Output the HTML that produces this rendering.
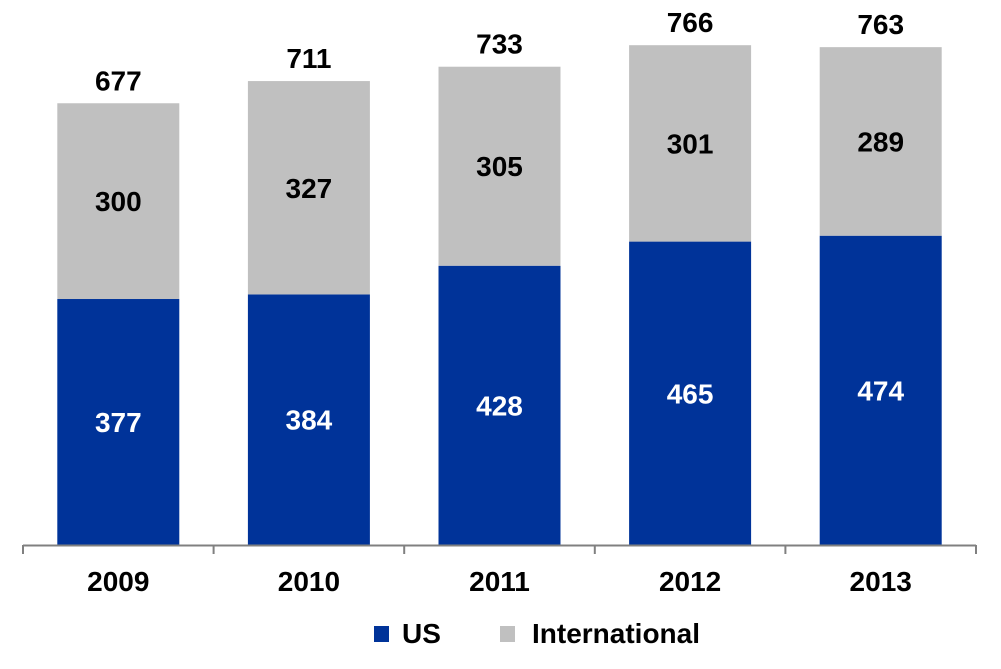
<!DOCTYPE html>
<html><head><meta charset="utf-8"><style>
body{margin:0;background:#fff;}
svg{display:block;font-family:"Liberation Sans",Arial,sans-serif;font-weight:bold;}
</style></head><body>
<svg id="chart" width="1001" height="669">
<g id="bars"></g>
<g id="axis"></g>
<g>
<rect x="374" y="626" width="15" height="16" fill="#003399"/>
<text x="402" y="643" font-size="28" fill="#000">US</text>
<rect x="500" y="626" width="15" height="16" fill="#C0C0C0"/>
<text x="532" y="643" font-size="28" fill="#000">International</text>
</g>
</svg>
<script>
const categories=["2009","2010","2011","2012","2013"];
const usValues=[377,384,428,465,474];
const intlValues=[300,327,305,301,289];
const totals=[677,711,733,766,763];
const NS="http://www.w3.org/2000/svg";
const x0=23,pitch=190.6,barW=122,base=545,k=0.6525;
const xPos=i=>x0+pitch*i+(pitch-barW)/2;
const yScale=v=>base-v*k;
const bars=document.getElementById('bars'),axis=document.getElementById('axis');
function mk(tag,attrs,parent){const e=document.createElementNS(NS,tag);for(const a in attrs)e.setAttribute(a,attrs[a]);parent.appendChild(e);return e;}
categories.forEach((c,i)=>{
  const x=xPos(i),cx=x+barW/2;
  const us=mk('rect',{x:x,y:yScale(usValues[i]),width:barW,height:usValues[i]*k,fill:'#003399'},bars);
  
  
  const it=mk('rect',{x:x,y:yScale(usValues[i]+intlValues[i]),width:barW,height:intlValues[i]*k,fill:'#C0C0C0'},bars);
  
  
  const t1=mk('text',{x:cx,y:yScale(usValues[i]/2)+10,'text-anchor':'middle','font-size':28,fill:'#fff'},bars);
  t1.textContent=usValues[i];
  
  
  const t2=mk('text',{x:cx,y:yScale(usValues[i]+intlValues[i]/2)+10,'text-anchor':'middle','font-size':28,fill:'#000'},bars);
  t2.textContent=intlValues[i];
  
  
  const t3=mk('text',{x:cx,y:yScale(totals[i])-13,'text-anchor':'middle','font-size':28,fill:'#000'},bars);
  t3.textContent=totals[i];
  
  
  const tl=mk('text',{x:cx,y:591,'text-anchor':'middle','font-size':28,fill:'#000'},axis);
  tl.textContent=c;
  
  
});
const line=mk('line',{x1:x0,y1:base+0.5,x2:x0+pitch*5,y2:base+0.5,stroke:'#808080','stroke-width':2},axis);


for(let i=0;i<=5;i++){
  const t=mk('line',{x1:x0+pitch*i,y1:base,x2:x0+pitch*i,y2:base+9,stroke:'#808080','stroke-width':2},axis);
  
  
}
</script>
</body></html>
